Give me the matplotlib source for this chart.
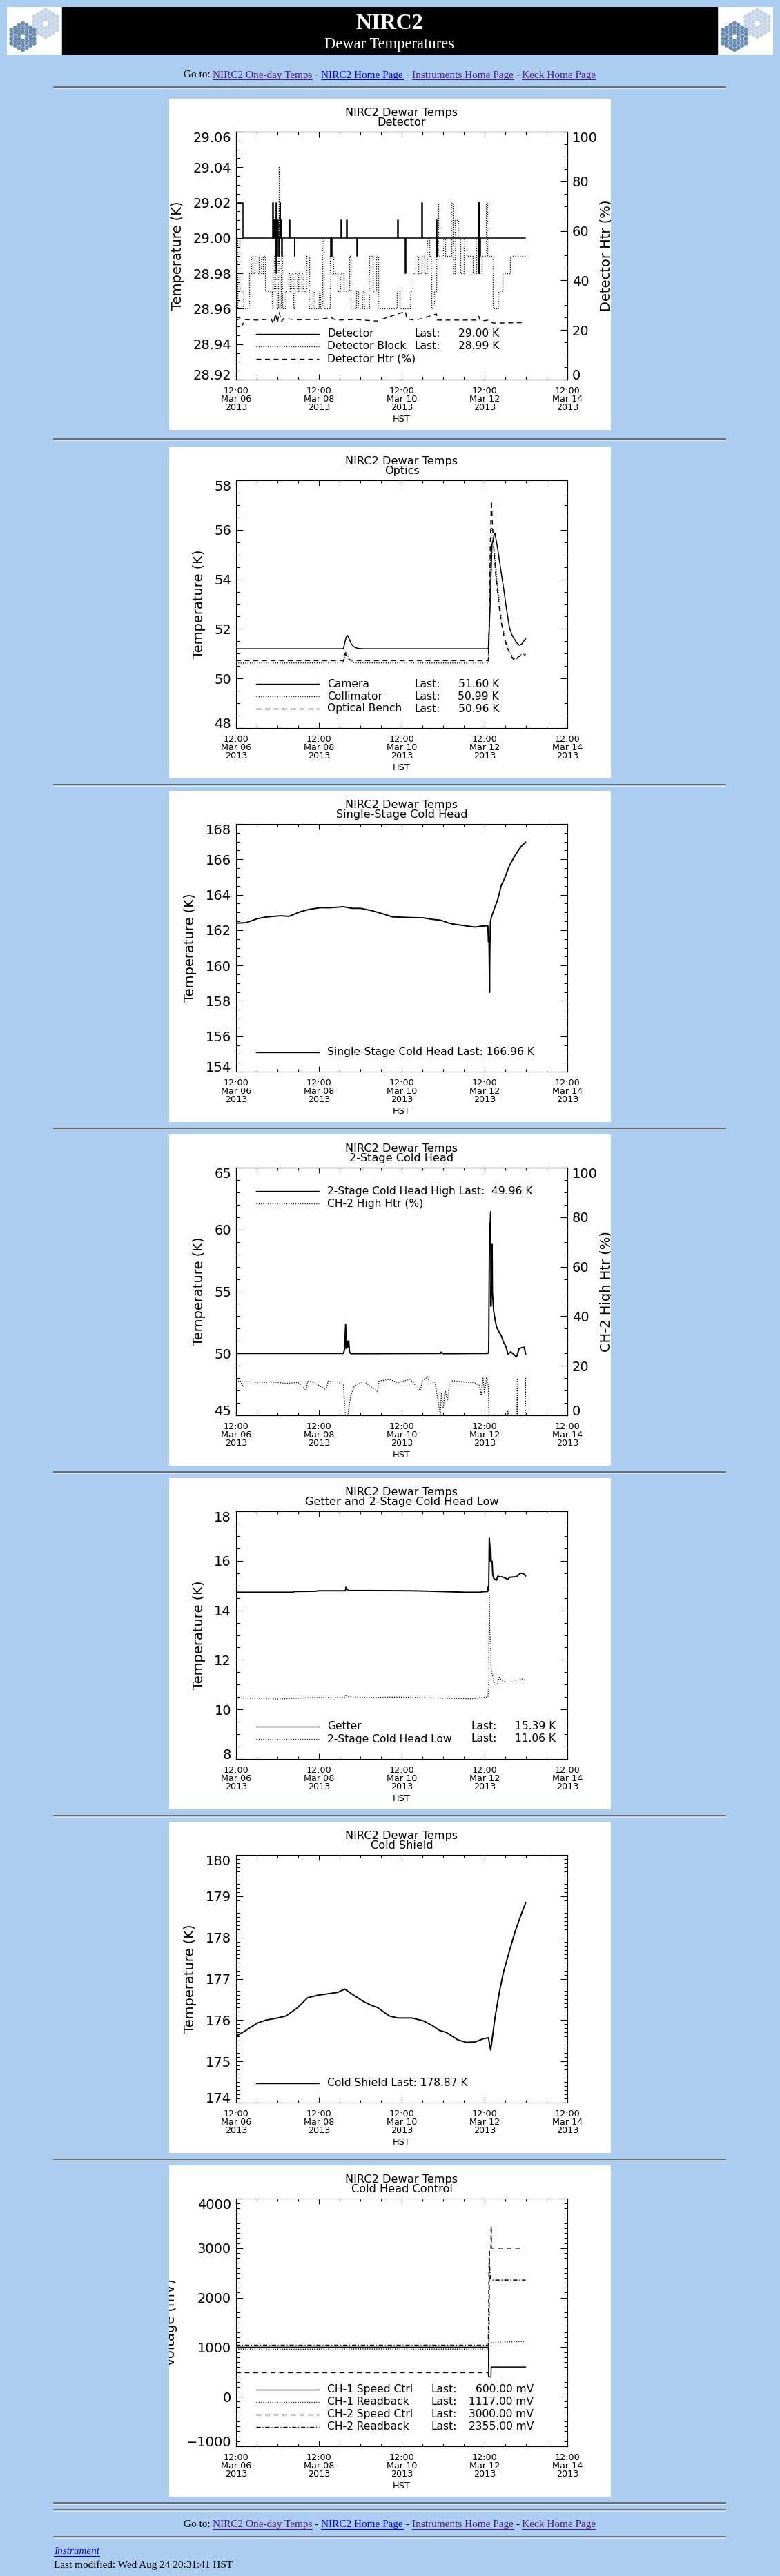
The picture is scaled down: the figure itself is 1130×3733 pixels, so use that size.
import numpy as np
import matplotlib
matplotlib.use('Agg')
import matplotlib.pyplot as plt
from matplotlib.patches import Rectangle, RegularPolygon
from matplotlib.ticker import MultipleLocator, FuncFormatter
from matplotlib.transforms import Bbox, TransformedBbox

plt.rcParams['font.family'] = ['DejaVu Sans']
plt.rcParams['lines.scale_dashes'] = False
plt.rcParams['axes.linewidth'] = 0.8

# time axis in days since 12:00 HST, Mar 06 2013
x_ticks = [0, 2, 4, 6, 8]
x_ticklabels = ['12:00\nMar 06\n2013', '12:00\nMar 08\n2013', '12:00\nMar 10\n2013',
                '12:00\nMar 12\n2013', '12:00\nMar 14\n2013']

# ---------------- Detector ----------------
detector_first = 29.02
detector_base = 29.00
detector_step_day = 0.16
detector_end_day = 6.99
detector_spike_day = [0.88, 0.90, 0.93, 0.95, 0.97, 0.97, 0.99, 1.00, 1.04, 1.06, 1.09, 1.10,
                      1.28, 1.41, 2.29, 2.30, 2.54, 2.67, 2.92, 3.90, 4.09, 4.48, 4.83, 4.84,
                      4.85, 5.85, 5.86, 5.87, 5.88]
detector_spike_k = [29.02, 29.01, 29.01, 28.99, 29.02, 28.98, 28.99, 29.01, 28.99, 29.02, 29.01, 28.99,
                    29.01, 28.99, 28.99, 28.99, 29.01, 29.01, 28.99, 29.01, 28.98, 29.02, 29.01, 28.99,
                    28.99, 29.02, 28.98, 29.02, 28.99]
det_block = [(0.00, 28.96), (0.03, 29.00), (0.08, 28.97), (0.16, 28.96), (0.31, 28.98), (0.36, 28.99),
             (0.40, 28.98), (0.45, 28.99), (0.50, 28.98), (0.55, 28.99), (0.60, 28.98), (0.65, 28.99),
             (0.70, 28.97), (0.86, 28.96), (0.89, 28.99), (0.92, 28.97), (0.95, 29.02), (0.98, 28.96),
             (1.01, 29.00), (1.03, 29.04), (1.04, 28.98), (1.05, 28.96), (1.08, 28.99), (1.12, 28.96),
             (1.18, 28.97), (1.26, 28.98), (1.30, 28.97), (1.34, 28.98), (1.38, 28.96), (1.42, 28.98),
             (1.46, 28.97), (1.50, 28.98), (1.54, 28.97), (1.58, 28.98), (1.62, 28.97), (1.70, 28.99),
             (1.76, 28.96), (1.85, 28.97), (1.88, 28.96), (2.00, 28.97), (2.04, 28.96), (2.09, 29.00),
             (2.11, 28.96), (2.27, 28.99), (2.35, 28.98), (2.45, 28.97), (2.52, 28.98), (2.60, 28.97),
             (2.74, 28.99), (2.77, 28.96), (2.90, 28.97), (2.95, 28.96), (3.05, 28.97), (3.10, 28.96),
             (3.22, 28.99), (3.30, 28.97), (3.38, 28.99), (3.43, 28.96), (3.88, 28.97), (3.95, 28.96),
             (4.20, 28.97), (4.26, 28.98), (4.33, 28.99), (4.40, 28.98), (4.48, 28.99), (4.55, 28.98),
             (4.62, 29.00), (4.66, 28.99), (4.72, 28.96), (4.78, 28.97), (4.83, 28.99), (4.86, 29.02),
             (4.88, 28.99), (5.00, 29.00), (5.05, 28.99), (5.20, 29.02), (5.24, 28.98), (5.28, 29.01),
             (5.36, 29.00), (5.42, 28.98), (5.50, 29.00), (5.56, 28.99), (5.72, 28.98), (5.80, 29.00),
             (5.87, 28.98), (5.93, 28.99), (6.03, 29.02), (6.06, 28.99), (6.20, 28.96), (6.33, 28.97),
             (6.44, 28.98), (6.62, 28.99), (6.99, 28.99)]
det_htr = [(0.00, 24.0), (0.10, 24.5), (0.16, 22.0), (0.20, 24.2), (0.50, 24.0), (0.85, 24.4),
           (0.90, 22.5), (0.95, 26.5), (1.00, 23.0), (1.04, 27.0), (1.10, 23.5), (1.15, 24.6),
           (1.50, 24.1), (2.00, 24.3), (2.30, 25.0), (2.40, 24.0), (2.90, 24.2), (3.40, 23.6),
           (3.50, 24.2), (4.09, 27.5), (4.12, 24.5), (4.30, 24.0), (4.50, 24.6), (4.84, 26.5),
           (4.86, 24.0), (5.80, 24.0), (5.86, 25.5), (5.90, 23.6), (6.10, 24.0), (6.20, 22.8),
           (6.99, 23.0)]

# ---------------- Optics ----------------
camera = [(0.00, 51.20), (2.59, 51.20), (2.62, 51.40), (2.66, 51.68), (2.69, 51.74), (2.73, 51.60),
          (2.78, 51.40), (2.85, 51.27), (2.95, 51.21), (3.10, 51.20), (6.09, 51.20), (6.13, 52.70),
          (6.18, 55.40), (6.22, 55.70), (6.25, 55.87), (6.32, 55.20), (6.39, 54.40), (6.46, 53.64),
          (6.53, 52.80), (6.60, 52.06), (6.65, 51.80), (6.70, 51.64), (6.77, 51.45), (6.84, 51.34),
          (6.90, 51.40), (6.99, 51.60)]
collimator = [(0.00, 50.62), (2.59, 50.63), (2.62, 50.90), (2.65, 51.05), (2.69, 50.95), (2.74, 50.75),
              (2.80, 50.66), (2.90, 50.63), (6.09, 50.62), (6.11, 51.50), (6.14, 54.50), (6.17, 56.10),
              (6.20, 55.80), (6.25, 54.90), (6.30, 53.90), (6.37, 52.90), (6.45, 52.00), (6.52, 51.50),
              (6.60, 51.10), (6.68, 50.85), (6.75, 50.75), (6.80, 50.80), (6.87, 50.95), (6.99, 50.99)]
optical_bench = [(0.00, 50.72), (2.59, 50.72), (2.61, 50.95), (2.64, 51.00), (2.68, 50.85), (2.74, 50.76),
                 (2.85, 50.72), (6.09, 50.72), (6.11, 52.00), (6.14, 55.50), (6.165, 57.17), (6.19, 56.20),
                 (6.22, 55.30), (6.27, 54.20), (6.33, 53.20), (6.40, 52.30), (6.48, 51.60), (6.56, 51.20),
                 (6.64, 50.90), (6.72, 50.72), (6.76, 50.78), (6.83, 50.90), (6.99, 50.96)]

# ---------------- Single-stage cold head ----------------
single_stage = [(0.00, 162.39), (0.24, 162.42), (0.52, 162.65), (0.73, 162.74), (1.07, 162.81),
                (1.28, 162.78), (1.55, 163.04), (1.76, 163.17), (2.04, 163.27), (2.25, 163.26),
                (2.59, 163.32), (2.80, 163.23), (3.01, 163.23), (3.28, 163.10), (3.56, 162.91),
                (3.77, 162.75), (4.18, 162.71), (4.53, 162.69), (4.73, 162.61), (4.94, 162.56),
                (5.15, 162.39), (5.22, 162.35), (5.49, 162.26), (5.77, 162.17), (5.91, 162.22),
                (6.08, 162.25), (6.086, 161.81), (6.093, 161.35), (6.107, 161.55), (6.121, 158.48),
                (6.128, 160.88), (6.142, 162.46), (6.162, 162.71), (6.218, 163.10), (6.321, 163.75),
                (6.404, 164.53), (6.494, 164.98), (6.598, 165.63), (6.701, 166.08), (6.805, 166.47),
                (6.908, 166.80), (6.991, 166.96)]

# ---------------- 2-stage cold head ----------------
two_stage_high = [(0.00, 50.00), (2.59, 50.00), (2.62, 50.30), (2.645, 52.35), (2.66, 50.40),
                  (2.68, 51.00), (2.70, 50.50), (2.72, 51.00), (2.74, 50.10), (2.77, 49.98),
                  (4.94, 50.00), (4.95, 50.10), (5.00, 49.98), (6.08, 50.00), (6.100, 50.15),
                  (6.107, 53.70), (6.121, 60.50), (6.135, 60.20), (6.148, 61.43), (6.155, 53.80),
                  (6.170, 56.50), (6.183, 58.80), (6.19, 55.00), (6.218, 53.46), (6.25, 52.80),
                  (6.287, 52.17), (6.32, 51.90), (6.356, 51.70), (6.404, 51.43), (6.459, 50.87),
                  (6.494, 50.70), (6.528, 50.41), (6.563, 49.94), (6.632, 50.13), (6.701, 49.94),
                  (6.770, 49.72), (6.839, 50.41), (6.957, 50.50), (6.991, 49.96)]
ch2_high_htr = [(0.00, 13.5), (0.10, 14.0), (0.17, 11.5), (0.20, 13.8), (0.50, 13.2), (0.90, 13.5),
                (1.20, 12.9), (1.50, 13.3), (1.69, 10.0), (1.73, 13.8), (1.90, 13.2), (2.18, 10.2),
                (2.22, 13.8), (2.45, 13.5), (2.59, 12.5), (2.62, 5.0), (2.64, 0.0), (2.70, 0.0),
                (2.73, 4.0), (2.77, 8.0), (2.85, 11.5), (2.95, 12.8), (3.10, 13.5), (3.42, 9.5),
                (3.45, 13.8), (3.70, 14.5), (3.90, 13.2), (4.20, 14.5), (4.45, 10.0), (4.50, 14.0),
                (4.63, 15.5), (4.66, 12.5), (4.80, 13.5), (4.93, 0.5), (4.96, 9.0), (5.00, 3.0),
                (5.05, 10.0), (5.10, 6.0), (5.15, 12.0), (5.20, 14.0), (5.50, 13.5), (5.75, 13.2),
                (5.88, 12.0), (5.92, 8.5), (5.96, 15.0), (6.00, 9.0), (6.05, 15.5), (6.09, 12.0),
                (6.11, 0.0), (6.55, 0.0), (6.56, 2.0), (6.58, 0.0), (6.78, 0.0), (6.79, 15.0),
                (6.80, 0.0), (6.98, 0.0), (6.985, 15.0), (6.99, 0.0)]

# ---------------- Getter / 2-stage low ----------------
getter = [(0.00, 14.73), (1.38, 14.73), (1.40, 14.76), (1.90, 14.77), (2.00, 14.79), (2.64, 14.79),
          (2.65, 14.93), (2.68, 14.85), (2.72, 14.80), (3.20, 14.80), (4.20, 14.79), (4.50, 14.78),
          (4.95, 14.76), (5.56, 14.73), (5.90, 14.73), (5.95, 14.75), (6.07, 14.76), (6.09, 14.95),
          (6.10, 14.80), (6.114, 16.91), (6.13, 16.60), (6.135, 16.00), (6.15, 16.50), (6.16, 15.95),
          (6.183, 15.98), (6.197, 15.43), (6.22, 15.30), (6.25, 15.25), (6.29, 15.22), (6.32, 15.38),
          (6.36, 15.35), (6.42, 15.35), (6.50, 15.30), (6.56, 15.25), (6.60, 15.33), (6.70, 15.35),
          (6.77, 15.35), (6.83, 15.45), (6.87, 15.50), (6.93, 15.48), (6.96, 15.45), (6.99, 15.39)]
two_stage_low = [(0.00, 10.47), (0.50, 10.45), (1.00, 10.42), (1.50, 10.46), (2.00, 10.48),
                 (2.64, 10.50), (2.65, 10.60), (2.70, 10.52), (3.20, 10.48), (3.80, 10.50),
                 (4.50, 10.48), (5.20, 10.45), (5.70, 10.43), (5.90, 10.48), (6.08, 10.50),
                 (6.10, 10.90), (6.114, 14.70), (6.12, 13.50), (6.135, 12.90), (6.15, 11.90),
                 (6.17, 11.50), (6.19, 11.40), (6.22, 11.15), (6.25, 11.03), (6.30, 11.00),
                 (6.356, 11.30), (6.40, 11.20), (6.50, 11.12), (6.60, 11.10), (6.70, 11.12),
                 (6.80, 11.18), (6.87, 11.25), (6.95, 11.20), (6.99, 11.15)]

# ---------------- Cold shield ----------------
cold_shield = [(0.00, 175.61), (0.207, 175.73), (0.518, 175.93), (0.725, 176.00), (1.00, 176.05),
               (1.209, 176.10), (1.485, 176.30), (1.727, 176.54), (1.969, 176.60), (2.176, 176.63),
               (2.453, 176.67), (2.625, 176.75), (2.798, 176.63), (3.074, 176.45), (3.282, 176.35),
               (3.42, 176.30), (3.696, 176.10), (3.903, 176.05), (4.249, 176.05), (4.525, 175.98),
               (4.767, 175.85), (4.905, 175.75), (5.078, 175.70), (5.354, 175.52), (5.561, 175.46),
               (5.769, 175.47), (5.976, 175.55), (6.093, 175.57), (6.148, 175.27), (6.252, 176.06),
               (6.356, 176.67), (6.459, 177.17), (6.598, 177.66), (6.736, 178.14), (6.874, 178.53),
               (6.991, 178.84)]

# ---------------- Cold head control (mV) ----------------
ch1_speed = [(0.00, 1000), (6.095, 1000), (6.10, 400), (6.155, 400), (6.16, 600), (6.99, 600)]
ch1_read = [(0.00, 962), (1.50, 958), (3.00, 965), (4.50, 960), (6.09, 962), (6.11, 1080),
            (6.25, 1100), (6.99, 1117)]
ch2_speed = [(0.00, 485), (6.09, 485), (6.10, 380), (6.12, 3000), (6.155, 3000), (6.16, 3450),
             (6.165, 3000), (6.91, 3000)]
ch2_read = [(0.00, 1040), (6.09, 1040), (6.11, 2800), (6.14, 2400), (6.17, 2355), (6.99, 2355)]

# ---------------- page layout (pixels) ----------------
W, H = 1130, 3733
BG = '#abcdef'
PANEL_X, PANEL_W, PANEL_H = 245, 640, 480
PANEL_TOP = [143, 648, 1146, 1644, 2142, 2640, 3138]
AX_X, AX_W, AX_H = 342, 480, 359
HR_Y = [126, 636, 1137, 1635, 2133, 2631, 3129, 3627, 3637, 3676]
PAGE_FONT = dict(fontsize=11, family='Liberation Serif', va='baseline')

SOLID = {'linestyle': '-'}
DOT = {'linestyle': (0, (0.8, 1.6))}
DASH = {'linestyle': (0, (5, 4))}
DASHDOT = {'linestyle': (0, (4.5, 2, 0.8, 2))}

fig = plt.figure(figsize=(W / 100, H / 100), dpi=100)
fig.patch.set_facecolor(BG)
page = fig.add_axes([0, 0, 1, 1], zorder=0)
page.set_xlim(0, W)
page.set_ylim(H, 0)
page.axis('off')
end_ticks = []


def xy(pairs):
    a = np.array(pairs, dtype=float)
    return a[:, 0], a[:, 1]


def draw_logo(x0, y0):
    page.add_patch(Rectangle((x0, y0), 79, 69, color='white', lw=0))
    s = 3.7
    for cx, cy, col in [(x0 + 56, y0 + 24, '#c5d5e6'), (x0 + 23, y0 + 43, '#6a8db3')]:
        for q in range(-3, 4):
            for r in range(-3, 4):
                d = max(abs(q), abs(r), abs(q + r))
                if d == 0 or d > 3:
                    continue
                hx = cx + 1.5 * s * q
                hy = cy + np.sqrt(3) * s * (r + q / 2)
                page.add_patch(RegularPolygon((hx, hy), 6, radius=s * 0.93,
                                              orientation=np.pi / 6, color=col, lw=0))


def text_width(s, **kw):
    t = page.text(0, 0, s, **kw)
    w = t.get_window_extent(fig.canvas.get_renderer()).width
    t.remove()
    return w


def link_line(y):
    pieces = [('Go to: ', 'black', False), ('NIRC2 One-day Temps', '#551a8b', True),
              (' - ', 'black', False), ('NIRC2 Home Page', '#0000ee', True),
              (' - ', 'black', False), ('Instruments Home Page', '#551a8b', True),
              (' - ', 'black', False), ('Keck Home Page', '#551a8b', True)]
    full = ''.join(p[0] for p in pieces)
    left = 564.5 - text_width(full, **PAGE_FONT) / 2
    xw = text_width('x', **PAGE_FONT)
    for i, (s, col, ul) in enumerate(pieces):
        prefix = ''.join(p[0] for p in pieces[:i])
        x0 = left + (text_width(prefix + 'x', **PAGE_FONT) - xw if prefix else 0)
        page.text(x0, y, s, color=col, **PAGE_FONT)
        if ul:
            page.plot([x0, x0 + text_width(s, **PAGE_FONT)], [y + 2.5, y + 2.5], color=col, lw=0.8)


# header
draw_logo(10, 10)
draw_logo(1041, 10)
page.add_patch(Rectangle((90, 10), 950, 69, color='black', lw=0))
page.text(564.5, 41.5, 'NIRC2', color='white', fontsize=23, fontweight='bold',
          family='Liberation Serif', ha='center', va='baseline')
page.text(564.5, 70, 'Dewar Temperatures', color='white', fontsize=16.3,
          family='Liberation Serif', ha='center', va='baseline')
link_line(112.5)

for y in HR_Y:
    page.plot([78, 1051], [y, y], color='#505050', lw=1.1)
    page.plot([78, 1051], [y + 1.5, y + 1.5], color='#e4e4e4', lw=0.8)

# footer
link_line(3662)
page.text(78, 3701, 'Instrument', color='#0000ee', style='italic', **PAGE_FONT)
w_instr = text_width('Instrument', style='italic', **PAGE_FONT)
page.plot([78, 78 + w_instr], [3703.5, 3703.5], color='#0000ee', lw=0.8)
page.text(78, 3721, 'Last modified: Wed Aug 24 20:31:41 HST', color='black', **PAGE_FONT)


def panel_clip(top):
    box = Bbox([[PANEL_X / W, 1 - (top + PANEL_H) / H], [(PANEL_X + PANEL_W) / W, 1 - top / H]])
    return TransformedBbox(box, fig.transFigure)


def int_fmt(v, pos):
    return f'{v:.0f}'.replace('-', '\u2212')


def y_ticks(a, lo, hi, major, minor, fmt):
    a.set_ylim(lo, hi)
    a.yaxis.set_major_locator(MultipleLocator(major))
    a.yaxis.set_minor_locator(MultipleLocator(minor))
    a.yaxis.set_major_formatter(fmt)
    a.tick_params(axis='y', which='both', direction='in', width=0.8)
    a.tick_params(axis='y', which='major', length=7.2, labelsize=14, pad=5)
    a.tick_params(axis='y', which='minor', length=3.6)
    end_ticks.append((a, lo, hi))


def make_panel(i, subtitle, ylim, major, minor, ylabel, fmt=FuncFormatter(int_fmt), right=None):
    top = PANEL_TOP[i]
    page.add_patch(Rectangle((PANEL_X, top), PANEL_W, PANEL_H, color='white', lw=0))
    ax = fig.add_axes([AX_X / W, 1 - (top + 48 + AX_H) / H, AX_W / W, AX_H / H], zorder=1)
    ax.set_facecolor('white')
    ax.set_xlim(0, 8)
    ax.set_xticks(x_ticks, x_ticklabels, linespacing=0.9)
    ax.xaxis.set_minor_locator(MultipleLocator(0.5))
    ax.tick_params(axis='x', which='both', direction='in', top=True, width=0.8)
    ax.tick_params(axis='x', which='major', length=5.8, labelsize=9.2, pad=7.5)
    ax.tick_params(axis='x', which='minor', length=2.9)
    y_ticks(ax, ylim[0], ylim[1], major, minor, fmt)
    ax.set_ylabel(ylabel, fontsize=14, labelpad=9)
    ax.yaxis.label.set_clip_box(panel_clip(top))
    ax.yaxis.label.set_clip_on(True)
    ax2 = None
    if right is not None:
        ax2 = ax.twinx()
        y_ticks(ax2, 0, 100, 20, 5, FuncFormatter(int_fmt))
        ax2.set_ylabel(right, fontsize=14, labelpad=2)
        ax2.yaxis.label.set_clip_box(panel_clip(top))
        ax2.yaxis.label.set_clip_on(True)
        ax.tick_params(axis='y', which='both', right=False)
    else:
        ax.tick_params(axis='y', which='both', right=True)
    ax.annotate('NIRC2 Dewar Temps', xy=(0.5, 1), xycoords='axes fraction', xytext=(0, 19.8),
                textcoords='offset points', ha='center', va='center', fontsize=11.6)
    ax.annotate(subtitle, xy=(0.5, 1), xycoords='axes fraction', xytext=(0, 9.4),
                textcoords='offset points', ha='center', va='center', fontsize=11.6)
    ax.annotate('HST', xy=(0.5, 0), xycoords='axes fraction', xytext=(0, -41.5),
                textcoords='offset points', ha='center', va='center', fontsize=9.2)
    return ax, ax2


def legend_rows(ax, rows, first_px, last_x=None, val_x=None):
    for k, (style, name, value) in enumerate(rows):
        y = 1 - (first_px + 2 + 18 * k) / AX_H
        ax.plot([0.0604, 0.25], [y, y], transform=ax.transAxes, color='k', lw=1.0,
                clip_on=False, **style)
        kw = dict(transform=ax.transAxes, va='center', fontsize=11.2)
        if value is None:
            ax.text(0.275, y, name, **kw)
        elif last_x is None:
            ax.text(0.275, y, f'{name} Last: {value}', **kw)
        else:
            ax.text(0.275, y, name, **kw)
            ax.text((last_x - AX_X) / AX_W, y, 'Last:', **kw)
            ax.text((val_x - AX_X) / AX_W, y, value, ha='right', **kw)


LW = 1.1

# 1. Detector
ax, ax2 = make_panel(0, 'Detector', (28.92, 29.06), 0.02, 0.005, 'Temperature (K)',
                     fmt=FuncFormatter(lambda v, p: f'{v:.2f}'), right='Detector Htr (%)')
det_t = [0.0, detector_step_day, detector_step_day]
det_v = [detector_first, detector_first, detector_base]
for d, k in zip(detector_spike_day, detector_spike_k):
    det_t += [d, d, d + 0.012, d + 0.012]
    det_v += [detector_base, k, k, detector_base]
det_t.append(detector_end_day)
det_v.append(detector_base)
ax.plot(det_t, det_v, color='k', lw=LW, **SOLID)
bt, bv = xy(det_block)
ax.plot(bt, bv, color='k', lw=1.0, drawstyle='steps-post', **DOT)
ht, hv = xy(det_htr)
ax2.plot(ht, hv, color='k', lw=1.0, **DASH)
legend_rows(ax, [(SOLID, 'Detector', '29.00 K'), (DOT, 'Detector Block', '28.99 K'),
                 (DASH, 'Detector Htr (%)', None)], 291, last_x=600, val_x=723)

# 2. Optics
ax, _ = make_panel(1, 'Optics', (48, 58), 2, 0.5, 'Temperature (K)')
for series, style in [(camera, SOLID), (collimator, DOT), (optical_bench, DASH)]:
    t, v = xy(series)
    ax.plot(t, v, color='k', lw=LW, **style)
legend_rows(ax, [(SOLID, 'Camera', '51.60 K'), (DOT, 'Collimator', '50.99 K'),
                 (DASH, 'Optical Bench', '50.96 K')], 293, last_x=600, val_x=723)

# 3. Single-stage cold head
ax, _ = make_panel(2, 'Single-Stage Cold Head', (154, 168), 2, 0.5, 'Temperature (K)')
t, v = xy(single_stage)
ax.plot(t, v, color='k', lw=1.4)
legend_rows(ax, [(SOLID, 'Single-Stage Cold Head', '166.96 K')], 328.7)

# 4. 2-stage cold head
ax, ax2 = make_panel(3, '2-Stage Cold Head', (45, 65), 5, 1, 'Temperature (K)',
                     right='CH-2 High Htr (%)')
t, v = xy(two_stage_high)
ax.plot(t, v, color='k', lw=1.4)
t, v = xy(ch2_high_htr)
ax2.plot(t, v, color='k', lw=1.0, **DOT)
legend_rows(ax, [(SOLID, '2-Stage Cold Head High', ' 49.96 K'),
                 (DOT, 'CH-2 High Htr (%)', None)], 32)

# 5. Getter and 2-stage cold head low
ax, _ = make_panel(4, 'Getter and 2-Stage Cold Head Low', (8, 18), 2, 0.5, 'Temperature (K)')
t, v = xy(getter)
ax.plot(t, v, color='k', lw=1.4)
t, v = xy(two_stage_low)
ax.plot(t, v, color='k', lw=1.0, **DOT)
legend_rows(ax, [(SOLID, 'Getter', '15.39 K'), (DOT, '2-Stage Cold Head Low', '11.06 K')],
            310, last_x=683, val_x=805)

# 6. Cold shield
ax, _ = make_panel(5, 'Cold Shield', (174, 180), 1, 0.1, 'Temperature (K)')
t, v = xy(cold_shield)
ax.plot(t, v, color='k', lw=1.4)
legend_rows(ax, [(SOLID, 'Cold Shield', '178.87 K')], 328.7)

# 7. Cold head control
ax, _ = make_panel(6, 'Cold Head Control', (-1000, 4000), 1000, 100, 'Voltage (mV)')
for series, style in [(ch1_speed, SOLID), (ch1_read, DOT), (ch2_speed, DASH), (ch2_read, DASHDOT)]:
    t, v = xy(series)
    ax.plot(t, v, color='k', lw=LW, **style)
legend_rows(ax, [(SOLID, 'CH-1 Speed Ctrl', '600.00 mV'), (DOT, 'CH-1 Readback', '1117.00 mV'),
                 (DASH, 'CH-2 Speed Ctrl', '3000.00 mV'), (DASHDOT, 'CH-2 Readback', '2355.00 mV')],
            274.7, last_x=625, val_x=773)

# IDL keeps the end labels of each y axis inside the axis range
fig.canvas.draw()
for a, lo, hi in end_ticks:
    for tick in a.yaxis.get_major_ticks():
        loc = tick.get_loc()
        if np.isclose(loc, hi):
            tick.label1.set_va('top')
            tick.label2.set_va('top')
        elif np.isclose(loc, lo):
            tick.label1.set_va('baseline')
            tick.label2.set_va('baseline')

fig.savefig('out.png', dpi=100, facecolor=BG)
